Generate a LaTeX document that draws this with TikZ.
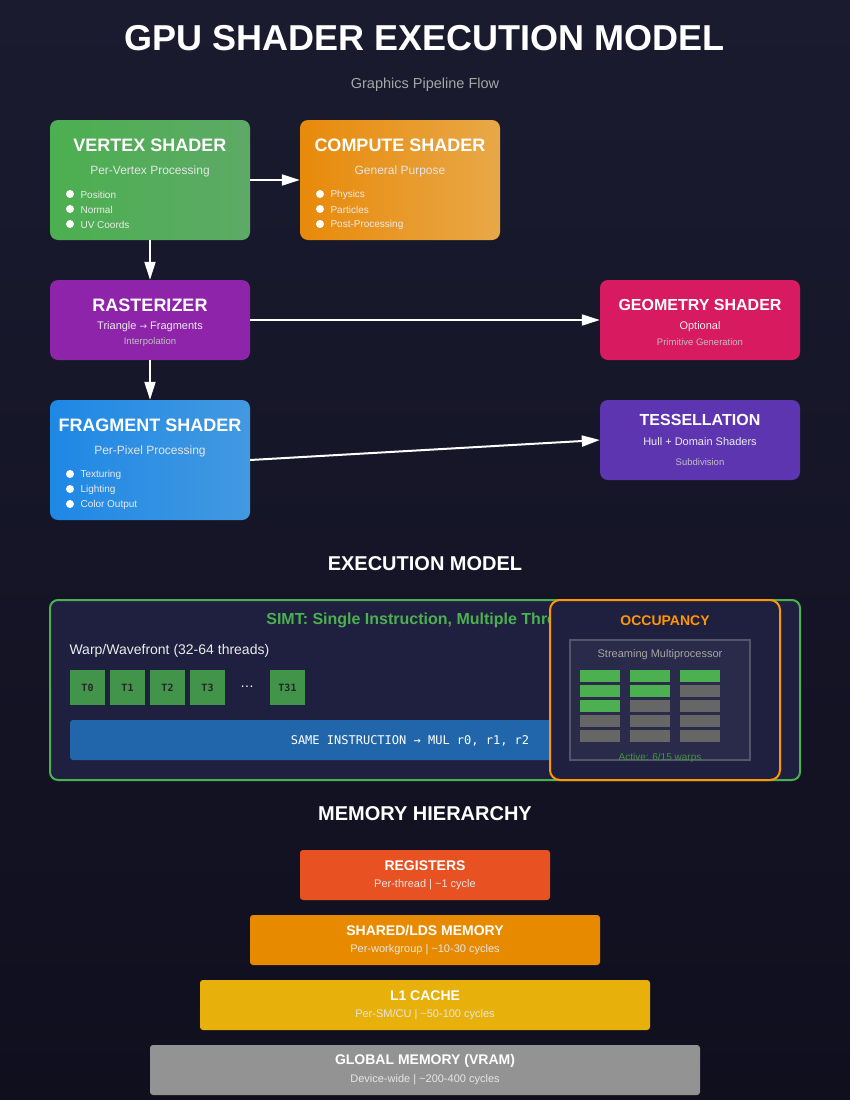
\documentclass[tikz,border=0pt]{standalone}
\usepackage{fontspec}
\setmainfont{Liberation Sans}
\setmonofont{DejaVu Sans Mono}
\usetikzlibrary{arrows.meta}

\definecolor{bgtop}{HTML}{1B1B30}
\definecolor{bgbot}{HTML}{0F0F1E}
\definecolor{vsl}{HTML}{4CAF50}
\definecolor{vsr}{HTML}{5DAA66}
\definecolor{csl}{HTML}{E88A0A}
\definecolor{csr}{HTML}{E8A848}
\definecolor{fsl}{HTML}{1E88E5}
\definecolor{fsr}{HTML}{4399E0}
\definecolor{rac}{HTML}{8E24AA}
\definecolor{gsc}{HTML}{D81B60}
\definecolor{tsc}{HTML}{5E35B1}
\definecolor{panel}{HTML}{1F1F40}
\definecolor{smfill}{HTML}{2A2A4A}
\definecolor{smline}{HTML}{55556A}
\definecolor{simtgreen}{HTML}{4CAF50}
\definecolor{thread}{HTML}{43944B}
\definecolor{instr}{HTML}{2166AB}
\definecolor{occorange}{HTML}{FF9800}
\definecolor{idle}{HTML}{666666}
\definecolor{regc}{HTML}{E85122}
\definecolor{shmc}{HTML}{E88A00}
\definecolor{l1c}{HTML}{E8B00B}
\definecolor{gmc}{HTML}{939393}

\newcommand\fsz[1]{\fontsize{#1}{#1}\selectfont}

\begin{document}
\begin{tikzpicture}[x=1pt,y=-1pt,
  box/.style={rounded corners=8pt,inner sep=0pt,minimum width=200pt},
  memrow/.style={rounded corners=3pt,inner sep=0pt,minimum height=50pt},
  flow/.style={line width=2pt,white,-{Triangle[length=18pt,width=11pt]}},
  boxtitle/.style={text=white,font=\fsz{18}\bfseries},
  smalltitle/.style={text=white,font=\fsz{16}\bfseries},
  boxsub/.style={text=white!90!black,font=\fsz{12}},
  rowsub/.style={text=white!90!black,font=\fsz{11}},
  tiny/.style={text=white!75!black,font=\fsz{9.5}},
  item/.style={anchor=west,text=white!92!black,font=\fsz{10}},
  heading/.style={text=white,font=\fsz{20}\bfseries},
  tcell/.style={fill=thread,minimum width=35pt,minimum height=35pt,inner sep=0pt,
    font=\ttfamily\bfseries\fsz{10},text=black!85}]

\useasboundingbox (0,0) rectangle (850,1100);
\shade[top color=bgtop,bottom color=bgbot] (0,0) rectangle (850,1100);

% title
\node[text=white,font=\fsz{36}\bfseries] (title) at (425,38) {GPU SHADER EXECUTION MODEL};
\node[text=white!65!black,font=\fsz{14.5}] (subtitle) at (425,85) {Graphics Pipeline Flow};

% pipeline stages
\node[box,minimum height=120pt,left color=vsl,right color=vsr] (vs) at (150,180) {};
\node[boxtitle] (vst) at (150,145) {VERTEX SHADER};
\node[boxsub] (vss) at (150,171) {Per-Vertex Processing};
\foreach \t [count=\i] in {Position,Normal,UV Coords}
  { \fill[white] (70,179+15*\i) circle (4pt);
    \node[item] (vsi\i) at (77,180+15*\i) {\t}; }

\node[box,minimum height=120pt,left color=csl,right color=csr] (cs) at (400,180) {};
\node[boxtitle] (cst) at (400,145) {COMPUTE SHADER};
\node[boxsub] (css) at (400,171) {General Purpose};
\foreach \t [count=\i] in {Physics,Particles,Post-Processing}
  { \fill[white] (320,179+15*\i) circle (4pt);
    \node[item] (csi\i) at (327,180+15*\i) {\t}; }

\node[box,minimum height=80pt,fill=rac] (ra) at (150,320) {};
\node[boxtitle] (rat) at (150,305) {RASTERIZER};
\node[text=white!92!black,font=\fsz{11}] (ras) at (150,327) {Triangle {\fontspec{DejaVu Sans}\fsz{9}→} Fragments};
\node[tiny] (rai) at (150,342) {Interpolation};

\node[box,minimum height=80pt,fill=gsc] (gs) at (700,320) {};
\node[smalltitle] (gst) at (700,305) {GEOMETRY SHADER};
\node[text=white!92!black,font=\fsz{11}] (gss) at (700,327) {Optional};
\node[tiny] (gsi) at (700,342) {Primitive Generation};

\node[box,minimum height=120pt,left color=fsl,right color=fsr] (fs) at (150,460) {};
\node[boxtitle] (fst) at (150,425) {FRAGMENT SHADER};
\node[boxsub] (fss) at (150,451) {Per-Pixel Processing};
\foreach \t [count=\i] in {Texturing,Lighting,Color Output}
  { \fill[white] (70,459+15*\i) circle (4pt);
    \node[item] (fsi\i) at (77,460+15*\i) {\t}; }

\node[box,minimum height=80pt,fill=tsc] (ts) at (700,440) {};
\node[smalltitle] (tst) at (700,420) {TESSELLATION};
\node[text=white!92!black,font=\fsz{11}] (tss) at (700,442) {Hull + Domain Shaders};
\node[tiny] (tsi) at (700,462) {Subdivision};

\draw[flow] (vs.east) -- (cs.west);
\draw[flow] (vs.south) -- (ra.north);
\draw[flow] (ra.east) -- (gs.west);
\draw[flow] (ra.south) -- (fs.north);
\draw[flow] (fs.east) -- (ts.west);

% execution model
\node[heading] (exech) at (425,564) {EXECUTION MODEL};
\node[rounded corners=8pt,draw=simtgreen,line width=2pt,fill=panel,minimum width=750pt,minimum height=180pt] (simt) at (425,690) {};
\node[text=simtgreen,font=\fsz{16}\bfseries] (simtt) at (425,620) {SIMT: Single Instruction, Multiple Threads};
\node[anchor=west,text=white!92!black,font=\fsz{14}] (warp) at (66,651) {Warp/Wavefront (32-64 threads)};
\foreach \n/\x in {0/87.5,1/127.5,2/167.5,3/207.5}
  \node[tcell] (t\n) at (\x,687.5) {T\n};
\node[text=white,font=\fsz{14}] (tdots) at (247,687) {\dots};
\node[tcell] (t31) at (287.5,687.5) {T31};
\node[fill=instr,rounded corners=3pt,minimum width=680pt,minimum height=40pt] (bar) at (410,740) {};
\node[text=white,font=\ttfamily\fsz{12}] (bart) at (410,741) {SAME INSTRUCTION → MUL r0, r1, r2};

% occupancy
\node[rounded corners=10pt,draw=occorange,line width=2pt,fill=panel,minimum width=230pt,minimum height=180pt] (occ) at (665,690) {};
\node[text=occorange,font=\fsz{14}\bfseries] (occt) at (665,621) {OCCUPANCY};
\node[draw=smline,line width=1.5pt,fill=smfill,minimum width=180pt,minimum height=120pt] (sm) at (660,700) {};
\node[text=white!65!black,font=\fsz{11}] (smt) at (660,655) {Streaming Multiprocessor};
\foreach \c in {0,1,2}
  \foreach \r in {0,...,4}
  { \pgfmathtruncatemacro\busy{\r+\c<=2 ? 1 : 0}
    \ifnum\busy=1 \def\cellc{simtgreen}\else\def\cellc{idle}\fi
    \fill[\cellc] (580+50*\c,670+15*\r) rectangle ++(40,12); }
\node[text=simtgreen!85!black,font=\fsz{10}] (act) at (660,758) {Active: 6/15 warps};

% memory hierarchy
\node[heading] (memh) at (425,814) {MEMORY HIERARCHY};
\node[memrow,fill=regc,minimum width=250pt] (reg) at (425,875) {};
\node[text=white,font=\fsz{14}\bfseries] (regt) at (425,866) {REGISTERS};
\node[rowsub] (regs) at (425,885) {Per-thread | \textasciitilde 1 cycle};
\node[memrow,fill=shmc,minimum width=350pt] (shm) at (425,940) {};
\node[text=white,font=\fsz{14}\bfseries] (shmt) at (425,931) {SHARED/LDS MEMORY};
\node[rowsub] (shms) at (425,950) {Per-workgroup | \textasciitilde 10-30 cycles};
\node[memrow,fill=l1c,minimum width=450pt] (lone) at (425,1005) {};
\node[text=white,font=\fsz{14}\bfseries] (lonet) at (425,996) {L1 CACHE};
\node[rowsub] (lones) at (425,1015) {Per-SM/CU | \textasciitilde 50-100 cycles};
\node[memrow,fill=gmc,minimum width=550pt] (gmem) at (425,1070) {};
\node[text=white,font=\fsz{14}\bfseries] (gmemt) at (425,1061) {GLOBAL MEMORY (VRAM)};
\node[rowsub] (gmems) at (425,1080) {Device-wide | \textasciitilde 200-400 cycles};

\end{tikzpicture}
\end{document}
